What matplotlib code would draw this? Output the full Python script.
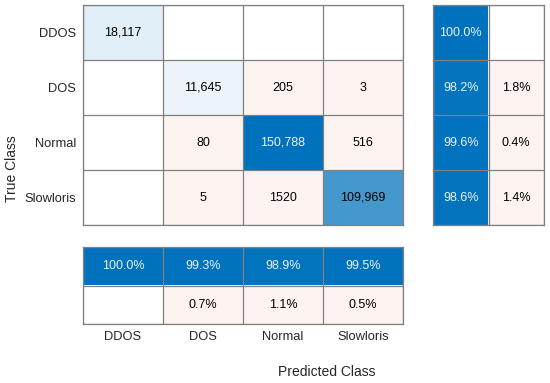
import numpy as np
import matplotlib.pyplot as plt

plt.rcParams['font.family'] = ['Liberation Sans', 'DejaVu Sans']

classes = ['DDOS', 'DOS', 'Normal', 'Slowloris']
counts = np.array([[18117, 0, 0, 0],
                   [0, 11645, 205, 3],
                   [0, 80, 150788, 516],
                   [0, 5, 1520, 109969]])
# row summary (true positive rate / false negative rate)
recall = [100.0, 98.2, 99.6, 98.6]
miss = [0.0, 1.8, 0.4, 1.4]
# column summary (precision / false discovery rate)
precision = [100.0, 99.3, 98.9, 99.5]
false_disc = [0.0, 0.7, 1.1, 0.5]

blue = np.array([0, 114, 189]) / 255
pink = np.array([253, 244, 241]) / 255
white = np.ones(3)
edge = '#808080'
light_txt = '#eaf2fa'


def cell(v, frac, good):
    if v == 0:
        return white, ''
    if good:
        return white + frac * (blue - white), light_txt if frac > 0.8 else 'black'
    return pink, 'black'


def fmt_count(v):
    if v == 0:
        return ''
    return f'{v:,}' if v >= 10000 else str(v)


def draw(ax, rgb, labels, tcol):
    nr, nc = rgb.shape[:2]
    ax.imshow(rgb, aspect='auto', interpolation='nearest')
    ax.set_xticks(np.arange(nc + 1) - 0.5, minor=True)
    ax.set_yticks(np.arange(nr + 1) - 0.5, minor=True)
    ax.grid(which='minor', color=edge, lw=0.9)
    ax.tick_params(which='both', length=0, labelsize=9.3, colors='#262626')
    ax.set_xticks([])
    ax.set_yticks([])
    for s in ax.spines.values():
        s.set_color(edge)
        s.set_linewidth(0.9)
    for i in range(nr):
        for j in range(nc):
            ax.text(j, i, labels[i][j], ha='center', va='center',
                    fontsize=9, color=tcol[i][j])


fig = plt.figure(figsize=(5.5, 3.83), dpi=100)

# main matrix
vmax = counts.max()
rgb = np.zeros((4, 4, 3))
labels = [['' for _ in range(4)] for _ in range(4)]
tcol = [['black' for _ in range(4)] for _ in range(4)]
for i in range(4):
    for j in range(4):
        v = counts[i, j]
        c, t = cell(v, v / vmax, i == j)
        rgb[i, j] = c
        tcol[i][j] = t if t else 'black'
        labels[i][j] = fmt_count(v)

ax = fig.add_axes([0.1509, 0.4125, 0.5818, 0.5744])
draw(ax, rgb, labels, tcol)
ax.set_yticks(range(4))
ax.set_yticklabels(classes)
ax.tick_params(axis='y', pad=5)

# row summary
rgb_r = np.zeros((4, 2, 3))
lab_r = [['', ''] for _ in range(4)]
tc_r = [['black', 'black'] for _ in range(4)]
for i in range(4):
    for j, (v, good) in enumerate([(recall[i], True), (miss[i], False)]):
        c, t = cell(v, v / 100 if good else 0, good)
        rgb_r[i, j] = c
        tc_r[i][j] = t if t else 'black'
        lab_r[i][j] = f'{v:.1f}%' if v else ''
axr = fig.add_axes([0.7873, 0.4125, 0.2018, 0.5744])
draw(axr, rgb_r, lab_r, tc_r)

# column summary
rgb_c = np.zeros((2, 4, 3))
lab_c = [['' for _ in range(4)] for _ in range(2)]
tc_c = [['black' for _ in range(4)] for _ in range(2)]
for j in range(4):
    for i, (v, good) in enumerate([(precision[j], True), (false_disc[j], False)]):
        c, t = cell(v, v / 100 if good else 0, good)
        rgb_c[i, j] = c
        tc_c[i][j] = t if t else 'black'
        lab_c[i][j] = f'{v:.1f}%' if v else ''
axc = fig.add_axes([0.1509, 0.154, 0.5818, 0.201])
draw(axc, rgb_c, lab_c, tc_c)
axc.set_xticks(range(4))
axc.set_xticklabels(classes)
axc.tick_params(axis='x', pad=5)

fig.text(0.021, 0.56, 'True Class', rotation=90, ha='center', va='center',
         fontsize=10, color='#262626')
fig.text(0.594, 0.029, 'Predicted Class', ha='center', va='center',
         fontsize=10, color='#262626')

fig.savefig('out.png', dpi=100)
